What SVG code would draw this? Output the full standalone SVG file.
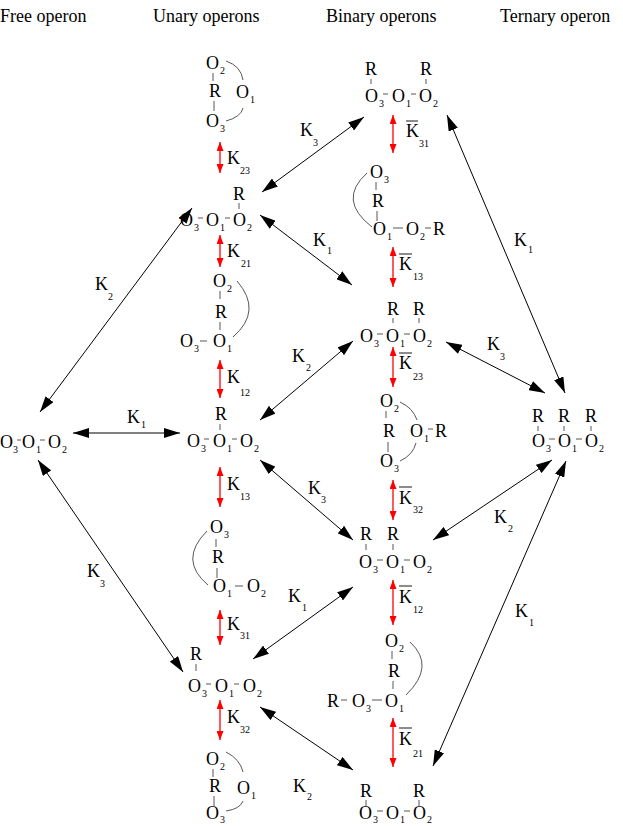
<svg xmlns="http://www.w3.org/2000/svg" width="623" height="826" viewBox="0 0 623 826">
<style>
text{font-family:"Liberation Serif","Times New Roman",serif;fill:#000}
.m{font-size:18px}
.s{font-size:10px}
.bd{stroke:#444;stroke-width:0.9;fill:none}
.bar{stroke:#000;stroke-width:0.9;fill:none}
.c{stroke:#000;stroke-width:1;fill:none;marker-start:url(#ah);marker-end:url(#ah)}
.r{stroke:#f00;stroke-width:1.3;fill:none;marker-start:url(#rh);marker-end:url(#rh)}
</style>
<defs>
<marker id="ah" markerUnits="userSpaceOnUse" markerWidth="16" markerHeight="10" refX="16" refY="5" orient="auto-start-reverse"><path d="M0,0 L16,5 L0,10 z" fill="#000"/></marker>
<marker id="rh" markerUnits="userSpaceOnUse" markerWidth="9" markerHeight="7" refX="9" refY="3.5" orient="auto-start-reverse"><path d="M0,0 L9,3.5 L0,7 z" fill="#f00"/></marker>
</defs>
<rect width="623" height="826" fill="#fff"/>
<g id="headers">
<text class="m" x="0" y="22">Free operon</text>
<text class="m" x="153" y="22">Unary operons</text>
<text class="m" x="326" y="22">Binary operons</text>
<text class="m" x="500" y="22">Ternary operon</text>
</g>
<g id="free">
<text class="m" x="0" y="448">O</text><text class="s" x="13" y="453">3</text>
<path class="bd" d="M17,440 H21"/>
<text class="m" x="22" y="448">O</text><text class="s" x="36" y="453">1</text>
<path class="bd" d="M40,440 H45"/>
<text class="m" x="48" y="448">O</text><text class="s" x="62" y="453">2</text>
</g>
<g id="u-loop-23">
<text class="m" x="206" y="69">O</text><text class="s" x="220" y="74">2</text>
<path class="bd" d="M213,73 V81"/>
<text class="m" x="209" y="97">R</text>
<path class="bd" d="M214,101 V111"/>
<text class="m" x="206" y="127">O</text><text class="s" x="220" y="132">3</text>
<text class="m" x="236" y="98">O</text><text class="s" x="250" y="103">1</text>
<path class="bd" d="M226,61 Q241,66 243,80"/>
<path class="bd" d="M243,108 Q241,117 226,121"/>
</g>
<g id="u-2">
<text class="m" x="233" y="200">R</text>
<path class="bd" d="M239,203 V209"/>
<text class="m" x="180" y="226">O</text><text class="s" x="194" y="231">3</text>
<path class="bd" d="M198,218 H203"/>
<text class="m" x="206" y="226">O</text><text class="s" x="220" y="231">1</text>
<path class="bd" d="M225,218 H230"/>
<text class="m" x="233" y="226">O</text><text class="s" x="247" y="231">2</text>
</g>
<g id="u-loop-21">
<text class="m" x="213" y="287">O</text><text class="s" x="227" y="292">2</text>
<path class="bd" d="M220,291 V299"/>
<text class="m" x="215" y="318">R</text>
<path class="bd" d="M220,322 V330"/>
<text class="m" x="180" y="347">O</text><text class="s" x="194" y="352">3</text>
<path class="bd" d="M200,341 H207"/>
<text class="m" x="213" y="347">O</text><text class="s" x="227" y="352">1</text>
<path class="bd" d="M237,281 Q263,311 233,337"/>
</g>
<g id="u-1">
<text class="m" x="215" y="420">R</text>
<path class="bd" d="M220,424 V430"/>
<text class="m" x="187" y="447">O</text><text class="s" x="201" y="452">3</text>
<path class="bd" d="M204,439 H209"/>
<text class="m" x="213" y="447">O</text><text class="s" x="227" y="452">1</text>
<path class="bd" d="M232,439 H237"/>
<text class="m" x="240" y="447">O</text><text class="s" x="254" y="452">2</text>
</g>
<g id="u-loop-13">
<text class="m" x="210" y="533">O</text><text class="s" x="224" y="538">3</text>
<path class="bd" d="M216,539 V547"/>
<text class="m" x="212" y="563">R</text>
<path class="bd" d="M217,568 V578"/>
<text class="m" x="213" y="592">O</text><text class="s" x="227" y="597">1</text>
<path class="bd" d="M235,586 H243"/>
<text class="m" x="247" y="592">O</text><text class="s" x="261" y="597">2</text>
<path class="bd" d="M207,531 Q178,560 208,585"/>
</g>
<g id="u-3">
<text class="m" x="190" y="660">R</text>
<path class="bd" d="M196,664 V671"/>
<text class="m" x="188" y="692">O</text><text class="s" x="202" y="697">3</text>
<path class="bd" d="M206,684 H211"/>
<text class="m" x="215" y="692">O</text><text class="s" x="229" y="697">1</text>
<path class="bd" d="M234,684 H239"/>
<text class="m" x="243" y="692">O</text><text class="s" x="257" y="697">2</text>
</g>
<g id="u-loop-32">
<text class="m" x="206" y="765">O</text><text class="s" x="220" y="770">2</text>
<path class="bd" d="M213,769 V777"/>
<text class="m" x="209" y="792">R</text>
<path class="bd" d="M214,796 V806"/>
<text class="m" x="206" y="819">O</text><text class="s" x="220" y="823">3</text>
<text class="m" x="237" y="794">O</text><text class="s" x="251" y="799">1</text>
<path class="bd" d="M226,752 Q240,759 243,772"/>
<path class="bd" d="M243,801 Q240,809 226,811"/>
</g>
<g id="b-31">
<text class="m" x="365" y="75">R</text><path class="bd" d="M371,79 V84"/>
<text class="m" x="420" y="75">R</text><path class="bd" d="M426,79 V84"/>
<text class="m" x="365" y="102">O</text><text class="s" x="379" y="107">3</text>
<path class="bd" d="M383,94 H388"/>
<text class="m" x="392" y="102">O</text><text class="s" x="406" y="107">1</text>
<path class="bd" d="M411,94 H416"/>
<text class="m" x="419" y="102">O</text><text class="s" x="433" y="107">2</text>
</g>
<g id="b-loop-13">
<text class="m" x="370" y="178">O</text><text class="s" x="384" y="183">3</text>
<path class="bd" d="M376,182 V190"/>
<text class="m" x="372" y="207">R</text>
<path class="bd" d="M377,211 V221"/>
<text class="m" x="373" y="235">O</text><text class="s" x="387" y="240">1</text>
<path class="bd" d="M393,228 H403"/>
<text class="m" x="406" y="235">O</text><text class="s" x="420" y="240">2</text>
<path class="bd" d="M425,228 H431"/>
<text class="m" x="433" y="235">R</text>
<path class="bd" d="M367,173 Q337,200 372,227"/>
</g>
<g id="b-12">
<text class="m" x="387" y="315">R</text><path class="bd" d="M393,318 V323"/>
<text class="m" x="413" y="315">R</text><path class="bd" d="M419,318 V323"/>
<text class="m" x="360" y="342">O</text><text class="s" x="374" y="347">3</text>
<path class="bd" d="M377,334 H383"/>
<text class="m" x="386" y="342">O</text><text class="s" x="400" y="347">1</text>
<path class="bd" d="M404,334 H410"/>
<text class="m" x="413" y="342">O</text><text class="s" x="427" y="347">2</text>
</g>
<g id="b-loop-23">
<text class="m" x="380" y="407">O</text><text class="s" x="394" y="412">2</text>
<path class="bd" d="M386,411 V418"/>
<text class="m" x="383" y="437">R</text>
<path class="bd" d="M388,442 V452"/>
<text class="m" x="380" y="467">O</text><text class="s" x="394" y="472">3</text>
<text class="m" x="410" y="437">O</text><text class="s" x="424" y="442">1</text>
<path class="bd" d="M428,429 H433"/>
<text class="m" x="435" y="437">R</text>
<path class="bd" d="M400,402 Q413,408 417,420"/>
<path class="bd" d="M416,443 Q413,455 400,461"/>
</g>
<g id="b-32">
<text class="m" x="360" y="540">R</text><path class="bd" d="M366,544 V550"/>
<text class="m" x="387" y="540">R</text><path class="bd" d="M393,544 V550"/>
<text class="m" x="359" y="568">O</text><text class="s" x="373" y="573">3</text>
<path class="bd" d="M377,560 H383"/>
<text class="m" x="386" y="568">O</text><text class="s" x="400" y="573">1</text>
<path class="bd" d="M404,560 H410"/>
<text class="m" x="413" y="568">O</text><text class="s" x="427" y="573">2</text>
</g>
<g id="b-loop-21">
<text class="m" x="385" y="647">O</text><text class="s" x="399" y="652">2</text>
<path class="bd" d="M392,651 V659"/>
<text class="m" x="388" y="677">R</text>
<path class="bd" d="M393,681 V689"/>
<text class="m" x="327" y="707">R</text>
<path class="bd" d="M341,700 H347"/>
<text class="m" x="352" y="707">O</text><text class="s" x="366" y="712">3</text>
<path class="bd" d="M372,700 H382"/>
<text class="m" x="385" y="707">O</text><text class="s" x="399" y="712">1</text>
<path class="bd" d="M410,642 Q436,666 406,695"/>
</g>
<g id="b-23">
<text class="m" x="360" y="797">R</text><path class="bd" d="M366,800 V806"/>
<text class="m" x="413" y="797">R</text><path class="bd" d="M419,800 V806"/>
<text class="m" x="359" y="819">O</text><text class="s" x="373" y="823">3</text>
<path class="bd" d="M377,811 H383"/>
<text class="m" x="386" y="819">O</text><text class="s" x="400" y="823">1</text>
<path class="bd" d="M404,811 H410"/>
<text class="m" x="413" y="819">O</text><text class="s" x="427" y="823">2</text>
</g>
<g id="ternary">
<text class="m" x="532" y="422">R</text><path class="bd" d="M538,426 V431"/>
<text class="m" x="558" y="422">R</text><path class="bd" d="M564,426 V431"/>
<text class="m" x="585" y="422">R</text><path class="bd" d="M591,426 V431"/>
<text class="m" x="532" y="447">O</text><text class="s" x="546" y="452">3</text>
<path class="bd" d="M549,439 H555"/>
<text class="m" x="558" y="447">O</text><text class="s" x="572" y="452">1</text>
<path class="bd" d="M576,439 H582"/>
<text class="m" x="585" y="447">O</text><text class="s" x="599" y="452">2</text>
</g>
<g id="connectors">
<path class="c" d="M40,412 L192,208"/>
<path class="c" d="M73,433 L180,433"/>
<path class="c" d="M38,460 L183,672"/>
<path class="c" d="M262,192 L364,117"/>
<path class="c" d="M260,215 L352,285"/>
<path class="c" d="M260,420 L353,341"/>
<path class="c" d="M260,460 L353,540"/>
<path class="c" d="M353,587 L253,659"/>
<path class="c" d="M260,707 L353,770"/>
<path class="c" d="M447,115 L565,393"/>
<path class="c" d="M446,342 L545,393"/>
<path class="c" d="M433,540 L552,460"/>
<path class="c" d="M433,766 L566,461"/>
<path class="r" d="M220,142 V173"/>
<path class="r" d="M220,235 V267"/>
<path class="r" d="M220,360 V398"/>
<path class="r" d="M220,467 V507"/>
<path class="r" d="M220,610 V645"/>
<path class="r" d="M220,700 V740"/>
<path class="r" d="M393,115 V153"/>
<path class="r" d="M393,247 V287"/>
<path class="r" d="M393,347 V387"/>
<path class="r" d="M393,480 V520"/>
<path class="r" d="M393,580 V625"/>
<path class="r" d="M393,718 V767"/>
</g>
<g id="labels">
<text class="m" x="95" y="290">K</text><text class="s" x="108" y="300">2</text>
<text class="m" x="127" y="423">K</text><text class="s" x="141" y="428">1</text>
<text class="m" x="87" y="577">K</text><text class="s" x="100" y="587">3</text>
<text class="m" x="300" y="136">K</text><text class="s" x="313" y="146">3</text>
<text class="m" x="313" y="246">K</text><text class="s" x="327" y="254">1</text>
<text class="m" x="292" y="362">K</text><text class="s" x="306" y="371">2</text>
<text class="m" x="308" y="494">K</text><text class="s" x="321" y="503">3</text>
<text class="m" x="288" y="602">K</text><text class="s" x="302" y="611">1</text>
<text class="m" x="293" y="792">K</text><text class="s" x="307" y="800">2</text>
<text class="m" x="514" y="246">K</text><text class="s" x="528" y="253">1</text>
<text class="m" x="487" y="350">K</text><text class="s" x="500" y="360">3</text>
<text class="m" x="494" y="523">K</text><text class="s" x="508" y="532">2</text>
<text class="m" x="515" y="617">K</text><text class="s" x="529" y="626">1</text>
<text class="m" x="227" y="164">K</text><text class="s" x="240" y="174">23</text>
<text class="m" x="227" y="257">K</text><text class="s" x="241" y="267">21</text>
<text class="m" x="227" y="383">K</text><text class="s" x="240" y="396">12</text>
<text class="m" x="227" y="490">K</text><text class="s" x="240" y="500">13</text>
<text class="m" x="227" y="630">K</text><text class="s" x="240" y="639">31</text>
<text class="m" x="227" y="723">K</text><text class="s" x="240" y="733">32</text>
<path class="bar" d="M406,121 H418"/><text class="m" x="406" y="137">K</text><text class="s" x="419" y="147">31</text>
<path class="bar" d="M399,254 H412"/><text class="m" x="399" y="270">K</text><text class="s" x="413" y="280">13</text>
<path class="bar" d="M399,353 H412"/><text class="m" x="399" y="369">K</text><text class="s" x="413" y="380">23</text>
<path class="bar" d="M399,487 H412"/><text class="m" x="399" y="504">K</text><text class="s" x="413" y="513">32</text>
<path class="bar" d="M399,586 H412"/><text class="m" x="399" y="603">K</text><text class="s" x="413" y="613">12</text>
<path class="bar" d="M399,728 H412"/><text class="m" x="399" y="745">K</text><text class="s" x="413" y="757">21</text>
</g>
</svg>
